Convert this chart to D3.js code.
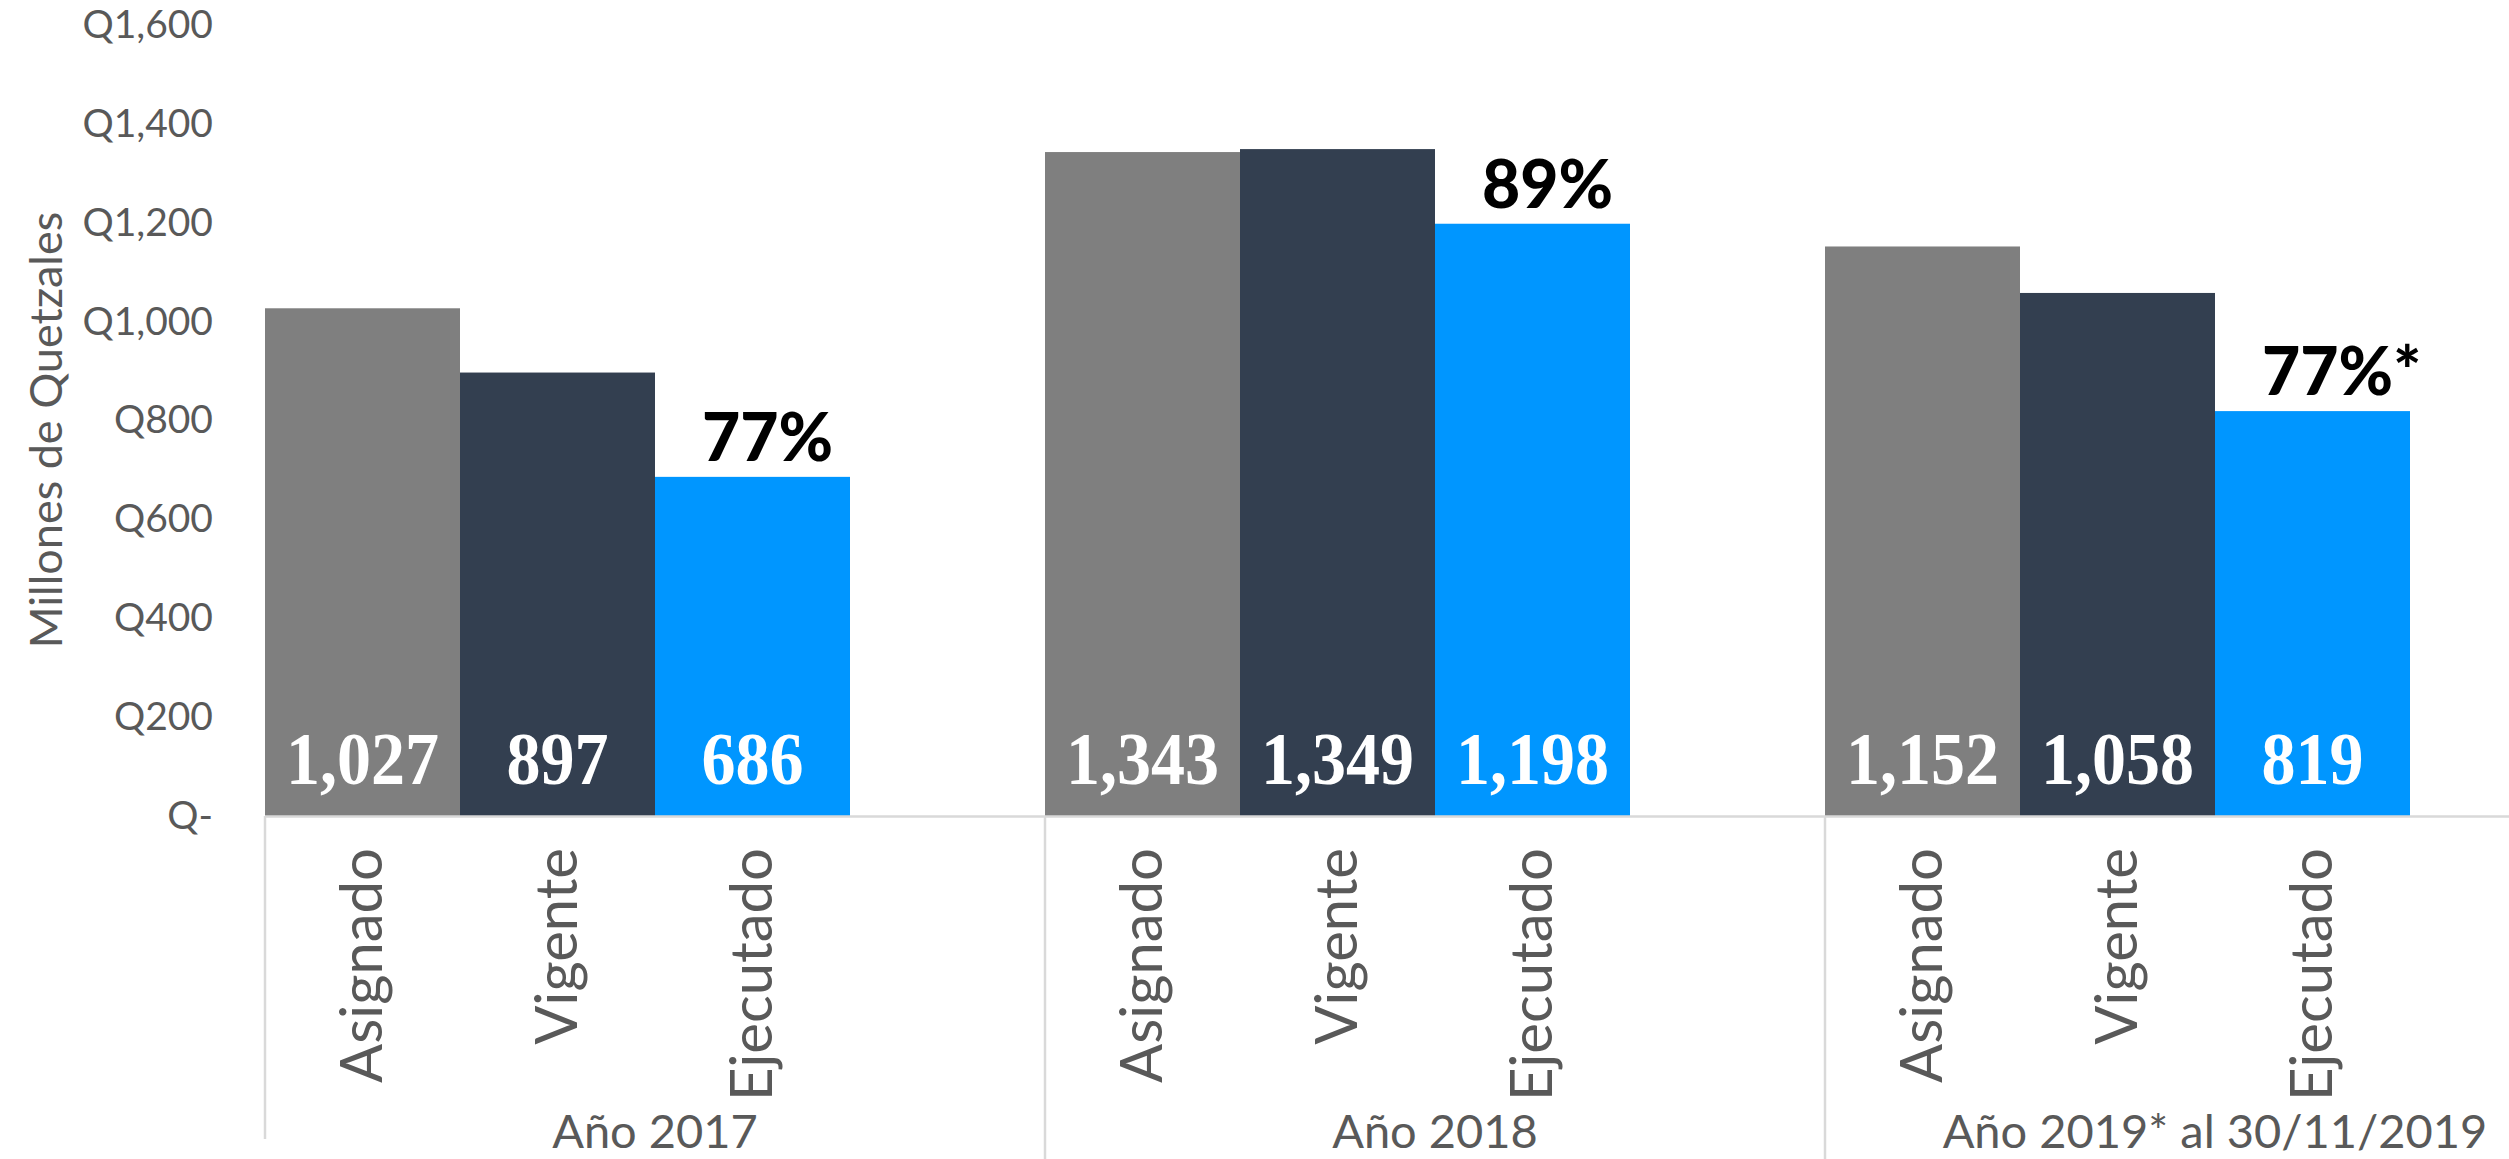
<!DOCTYPE html>
<html>
<head>
<meta charset="utf-8">
<script src="https://cdn.jsdelivr.net/npm/d3@7"></script>
<style>
  html, body { margin: 0; padding: 0; background: #ffffff; }
  svg { display: block; }
</style>
</head>
<body>
<svg id="chart" width="2509" height="1159"></svg>
<script>
// ---- data ----
const years = ["Año 2017", "Año 2018", "Año 2019* al 30/11/2019"];
const budgetTypes = ["Asignado", "Vigente", "Ejecutado"];
const asignado = [1027, 1343, 1152];
const vigente = [897, 1349, 1058];
const ejecutado = [686, 1198, 819];
const pctLabels = ["77%", "89%", "77%*"];
const yTicks = [0, 200, 400, 600, 800, 1000, 1200, 1400, 1600];
const yTitle = "Millones de Quetzales";

// ---- styling ----
const colors = { "Asignado": "#7f7f7f", "Vigente": "#333f50", "Ejecutado": "#0096ff" };
const sansFont = "Lato, 'Open Sans', sans-serif";
const serifFont = "'Liberation Serif', 'DejaVu Serif', serif";
const textGray = "#595959";
const lineGray = "#d9d9d9";

const svg = d3.select("#chart");
const W = 2509, H = 1159;
const plotLeft = 265, groupStep = 780;

const y = d3.scaleLinear().domain([0, 1600]).range([816, 25]);
const x0 = d3.scaleBand().domain(years).range([plotLeft, plotLeft + groupStep * years.length]).padding(0);
const x1 = d3.scaleBand().domain(budgetTypes).range([0, x0.bandwidth() * 0.75]).padding(0);

const seriesByType = { "Asignado": asignado, "Vigente": vigente, "Ejecutado": ejecutado };
const rows = [];
years.forEach((yr, i) => {
  budgetTypes.forEach(t => rows.push({ year: yr, type: t, value: seriesByType[t][i], idx: i }));
});

// bars
svg.append("g").selectAll("rect").data(rows).join("rect")
  .attr("x", d => x0(d.year) + x1(d.type))
  .attr("y", d => y(d.value))
  .attr("width", x1.bandwidth())
  .attr("height", d => y(0) - y(d.value))
  .attr("fill", d => colors[d.type]);

// value labels inside bars
const fmt = d3.format(",");
svg.append("g").selectAll("text").data(rows).join("text")
  .attr("transform", d => `translate(${x0(d.year) + x1(d.type) + x1.bandwidth() / 2},${y(0) - 32}) scale(0.92,1)`)
  .attr("text-anchor", "middle")
  .attr("font-family", serifFont)
  .attr("font-weight", "bold")
  .attr("font-size", 74)
  .attr("fill", "#ffffff")
  .text(d => fmt(d.value));

// percentage labels above Ejecutado bars
svg.append("g").selectAll("text").data(years).join("text")
  .attr("x", (d) => x0(d) + x1("Ejecutado") + 47)
  .attr("y", (d, i) => y(ejecutado[i]) - 16)
  .attr("text-anchor", "start")
  .attr("font-family", sansFont)
  .attr("font-weight", 900)
  .attr("font-size", 66)
  .attr("fill", "#000000")
  .text((d, i) => pctLabels[i]);

// y axis
const yAxis = d3.axisLeft(y).tickValues(yTicks).tickSize(0).tickPadding(52)
  .tickFormat(v => v === 0 ? "Q-" : "Q" + fmt(v));
const ga = svg.append("g").attr("transform", `translate(${plotLeft},0)`).call(yAxis);
ga.select(".domain").remove();
ga.selectAll("text")
  .attr("font-family", sansFont)
  .attr("font-size", 39)
  .attr("fill", textGray);

// y title
svg.append("text")
  .attr("transform", `translate(62,430) rotate(-90)`)
  .attr("text-anchor", "middle")
  .attr("font-family", sansFont)
  .attr("font-size", 45)
  .attr("fill", textGray)
  .text(yTitle);

// category axis line and separators
svg.append("line")
  .attr("x1", plotLeft).attr("x2", W)
  .attr("y1", y(0) + 0.5).attr("y2", y(0) + 0.5)
  .attr("stroke", lineGray).attr("stroke-width", 2.5);

svg.append("g").selectAll("line").data(years).join("line")
  .attr("x1", d => x0(d)).attr("x2", d => x0(d))
  .attr("y1", y(0)).attr("y2", (d, i) => i === 0 ? 1139 : H)
  .attr("stroke", lineGray).attr("stroke-width", 2.5);

// rotated category labels
svg.append("g").selectAll("text").data(rows).join("text")
  .attr("transform", d => `translate(${x0(d.year) + x1(d.type) + x1.bandwidth() / 2 + 19},848) rotate(-90)`)
  .attr("text-anchor", "end")
  .attr("font-family", sansFont)
  .attr("font-size", 58)
  .attr("fill", textGray)
  .text(d => d.type);

// year labels
svg.append("g").selectAll("text").data(years).join("text")
  .attr("x", d => x0(d) + x0.bandwidth() / 2)
  .attr("y", 1148)
  .attr("text-anchor", "middle")
  .attr("font-family", sansFont)
  .attr("font-size", 47)
  .attr("fill", textGray)
  .text(d => d);
</script>
</body>
</html>
